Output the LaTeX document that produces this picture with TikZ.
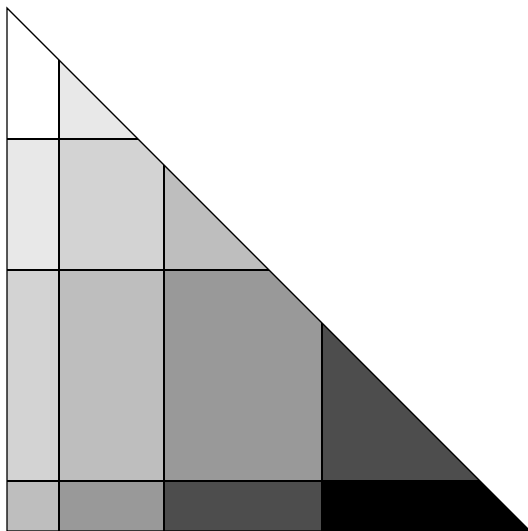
\documentclass[tikz,border=0pt]{standalone}
\begin{document}
\begin{tikzpicture}[x=1bp,y=-1bp,
  gridline/.style={line width=1.1bp,black},
  c0/.style={fill=white}, c1/.style={fill={rgb,255:red,232;green,232;blue,232}},
  c2/.style={fill={rgb,255:red,211;green,211;blue,211}}, c3/.style={fill={rgb,255:red,190;green,190;blue,190}},
  c4/.style={fill={rgb,255:red,153;green,153;blue,153}}, c5/.style={fill={rgb,255:red,77;green,77;blue,77}},
  c6/.style={fill=black}]
\useasboundingbox (0,0) rectangle (528,531);
\begin{scope}
\clip (7,8) -- (7,531) -- (530,531) -- cycle;
% row 0
\path[c0] (7,0) rectangle (59,139);
\path[c1] (59,0) rectangle (164,139);
% row 1
\path[c1] (7,139) rectangle (59,270);
\path[c2] (59,139) rectangle (164,270);
\path[c3] (164,139) rectangle (322,270);
% row 2
\path[c2] (7,270) rectangle (59,481);
\path[c3] (59,270) rectangle (164,481);
\path[c4] (164,270) rectangle (322,481);
\path[c5] (322,270) rectangle (540,481);
% row 3
\path[c3] (7,481) rectangle (59,540);
\path[c4] (59,481) rectangle (164,540);
\path[c5] (164,481) rectangle (322,540);
\path[c6] (322,481) rectangle (540,540);
% grid lines
\draw[gridline] (59,0) -- (59,540) (164,0) -- (164,540) (322,0) -- (322,540);
\draw[gridline] (0,139) -- (540,139) (0,270) -- (540,270) (0,481) -- (540,481);
\end{scope}
\draw[gridline] (530,531) -- (7,8) -- (7,531) -- cycle;
\end{tikzpicture}
\end{document}
